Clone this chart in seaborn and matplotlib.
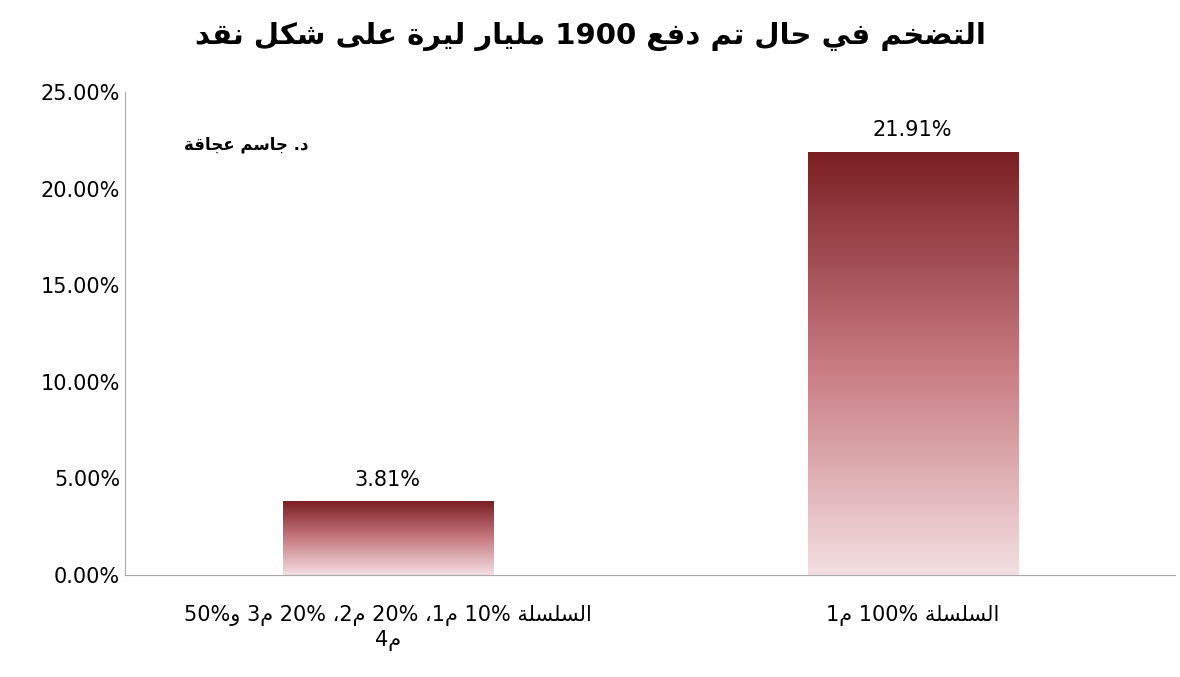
import re
import numpy as np
import pandas as pd
import matplotlib
matplotlib.use('Agg')
import matplotlib.pyplot as plt
import seaborn as sns
from matplotlib.colors import LinearSegmentedColormap

categories = ['السلسلة 10% م1، 20% م2، 20% م3 و50%\nم4', 'السلسلة 100% م1']
values = [3.81, 21.91]
title = 'التضخم في حال تم دفع 1900 مليار ليرة على شكل نقد'
author = 'د. جاسم عجاقة'

# minimal Arabic shaping: base presentation form (iso), +1 fin, +2 ini, +3 med
FORMS = {'ب': 0xFE8F, 'ت': 0xFE95, 'ث': 0xFE99, 'ج': 0xFE9D, 'ح': 0xFEA1, 'خ': 0xFEA5,
         'س': 0xFEB1, 'ش': 0xFEB5, 'ص': 0xFEB9, 'ض': 0xFEBD, 'ط': 0xFEC1, 'ظ': 0xFEC5,
         'ع': 0xFEC9, 'غ': 0xFECD, 'ف': 0xFED1, 'ق': 0xFED5, 'ك': 0xFED9, 'ل': 0xFEDD,
         'م': 0xFEE1, 'ن': 0xFEE5, 'ه': 0xFEE9, 'ي': 0xFEF1}
RIGHT_ONLY = {'ا': 0xFE8D, 'د': 0xFEA9, 'ذ': 0xFEAB, 'ر': 0xFEAD, 'ز': 0xFEAF,
              'و': 0xFEED, 'ة': 0xFE93, 'ى': 0xFEEF}


def joins(c):
    return c in FORMS or c in RIGHT_ONLY


def shape_line(s):
    s = s.replace('لا', '\uE000')
    out = []
    for i, c in enumerate(s):
        prev = s[i - 1] if i > 0 else ''
        nxt = s[i + 1] if i + 1 < len(s) else ''
        link_prev = prev in FORMS
        link_next = joins(nxt) or nxt == '\uE000'
        if c == '\uE000':
            out.append(chr(0xFEFC if prev in FORMS else 0xFEFB))
        elif c in FORMS:
            b = FORMS[c]
            if link_prev and link_next:
                out.append(chr(b + 3))
            elif link_prev:
                out.append(chr(b + 1))
            elif link_next:
                out.append(chr(b + 2))
            else:
                out.append(chr(b))
        elif c in RIGHT_ONLY:
            out.append(chr(RIGHT_ONLY[c] + (1 if link_prev else 0)))
        else:
            out.append(c)
    vis = ''.join(out)[::-1]
    return re.sub(r'[0-9.%]+', lambda m: m.group(0)[::-1], vis)


def ar(s):
    return '\n'.join(shape_line(l) for l in s.split('\n'))


sns.set_style('white')
plt.rcParams['font.family'] = ['DejaVu Sans']
plt.rcParams['text.color'] = 'black'
plt.rcParams['xtick.color'] = 'black'
plt.rcParams['ytick.color'] = 'black'

df = pd.DataFrame({'cat': [ar(c) for c in categories], 'val': values})

fig = plt.figure(figsize=(11.8, 6.77), dpi=100)
ax = fig.add_axes([0.106, 0.151, 0.89, 0.713])
sns.barplot(data=df, x='cat', y='val', width=0.4, color='#a04048', ax=ax)

cmap = LinearSegmentedColormap.from_list('g', ['#f3dfe1', '#c77a80', '#7a1f24'])
grad = np.linspace(0, 1, 256).reshape(-1, 1)
for p in ax.patches:
    x0, y0 = p.get_x(), p.get_y()
    w, h = p.get_width(), p.get_height()
    im = ax.imshow(grad, cmap=cmap, origin='lower', aspect='auto',
                   extent=[x0, x0 + w, y0, y0 + h], zorder=p.get_zorder() + 0.1)
    im.set_clip_path(p)
    p.set_alpha(0)
    ax.text(x0 + w / 2, h + 0.6, f'{h:.2f}%', ha='center', va='bottom', fontsize=15)

ax.set_xlim(-0.5, 1.5)
ax.set_ylim(0, 25)
ax.set_yticks(np.arange(0, 26, 5))
ax.set_yticklabels([f'{v:.2f}%' for v in np.arange(0, 26, 5)], fontsize=15)
ax.set_xticks([-0.5, 0.5, 1.5], minor=True)
ax.tick_params(axis='x', which='minor', length=6, color='#999999', direction='out')
ax.tick_params(axis='x', which='major', length=0, labelsize=15, pad=22)
ax.tick_params(axis='y', length=0)
ax.set_xlabel('')
ax.set_ylabel('')
sns.despine(ax=ax, top=True, right=True)
for s in ['left', 'bottom']:
    ax.spines[s].set_color('#aaaaaa')

ax.text(0.115, 0.88, ar(author), transform=ax.transAxes, ha='center', fontsize=12,
        fontweight='bold')
fig.text(0.5, 0.935, ar(title), ha='center', fontsize=21, fontweight='bold')

fig.savefig('out.png', dpi=100)
